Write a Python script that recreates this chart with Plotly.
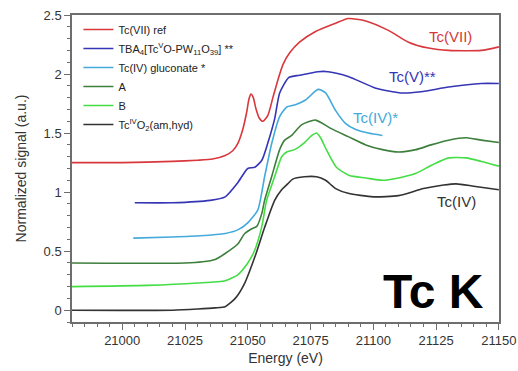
import plotly.graph_objects as go

# ---- data ----
names = [
    "Tc(VII) ref",
    "TBA<sub>4</sub>[Tc<sup>V</sup>O-PW<sub>11</sub>O<sub>39</sub>] **",
    "Tc(IV) gluconate *",
    "A",
    "B",
    "Tc<sup>IV</sup>O<sub>2</sub>(am,hyd)",
]

red_e = [20980, 21000, 21020, 21030, 21036, 21041, 21044, 21046, 21048, 21049.5, 21050.5,
         21051.3, 21052.2, 21053.2, 21054.5, 21056, 21058, 21060, 21062, 21064, 21066.7,
         21070.6, 21077, 21085, 21090, 21097, 21106, 21114, 21122, 21130, 21143, 21150]
red_v = [1.25, 1.25, 1.26, 1.27, 1.28, 1.31, 1.35, 1.41, 1.53, 1.67, 1.79,
         1.83, 1.80, 1.71, 1.63, 1.60, 1.65, 1.80, 1.95, 2.08, 2.18,
         2.27, 2.36, 2.43, 2.47, 2.45, 2.37, 2.27, 2.22, 2.20, 2.20, 2.23]

blue_e = [21005, 21020, 21035, 21041, 21046, 21050, 21052.8, 21055.6, 21057.9, 21060.7,
          21062.7, 21066.3, 21070.6, 21078, 21082, 21090, 21101, 21111, 21119, 21130,
          21143, 21150]
blue_v = [0.91, 0.91, 0.93, 0.96, 1.08, 1.20, 1.21, 1.27, 1.41, 1.62,
          1.84, 1.97, 1.99, 2.02, 2.02, 1.98, 1.88, 1.84, 1.85, 1.89,
          1.92, 1.92]

cyan_e = [21004.4, 21020, 21031, 21041, 21046, 21050, 21054, 21056.7, 21059.5, 21062.7,
          21065.5, 21069, 21073, 21078, 21081, 21085, 21089, 21093, 21098, 21103.6]
cyan_v = [0.61, 0.62, 0.63, 0.65, 0.68, 0.74, 0.85, 1.13, 1.41, 1.64,
          1.72, 1.74, 1.78, 1.87, 1.84, 1.69, 1.58, 1.53, 1.50, 1.48]

a_e = [20980, 21025, 21032, 21037, 21041, 21046, 21048.8, 21051.6, 21053.6, 21055.6,
       21056.7, 21059.5, 21062.7, 21064.7, 21067.5, 21071.4, 21077, 21083, 21090, 21097,
       21103.6, 21110, 21117, 21123, 21130, 21137, 21143, 21150]
a_v = [0.40, 0.40, 0.41, 0.43, 0.48, 0.56, 0.65, 0.69, 0.71, 0.82,
       0.93, 1.13, 1.36, 1.44, 1.48, 1.57, 1.61, 1.54, 1.47, 1.40,
       1.36, 1.34, 1.36, 1.40, 1.44, 1.46, 1.44, 1.42]

b_e = [20980, 21010, 21030, 21041, 21046, 21050, 21052.8, 21055.6, 21057.5, 21060.7,
       21063.5, 21065.5, 21068.6, 21072.6, 21075.5, 21077.4, 21079, 21081.3, 21085.3,
       21090.5, 21097, 21103.6, 21110, 21117, 21123.4, 21130, 21137, 21143, 21150]
b_v = [0.20, 0.21, 0.23, 0.25, 0.30, 0.40, 0.51, 0.71, 0.93, 1.13,
       1.30, 1.34, 1.36, 1.42, 1.48, 1.50, 1.46, 1.36, 1.21,
       1.14, 1.12, 1.10, 1.12, 1.16, 1.23, 1.29, 1.29, 1.26, 1.22]

k_e = [20980, 21020, 21030, 21037, 21041, 21045, 21048.8, 21052.8, 21056.7, 21060.7,
       21063.5, 21065.9, 21067.9, 21072.6, 21077.4, 21081, 21085, 21090, 21100, 21110,
       21120, 21128, 21133, 21140, 21150]
k_v = [0.00, 0.00, 0.01, 0.02, 0.03, 0.10, 0.23, 0.45, 0.70, 0.93,
       1.02, 1.07, 1.11, 1.13, 1.13, 1.10, 1.03, 0.99, 0.96, 0.97,
       1.03, 1.06, 1.07, 1.05, 1.02]

colors = ["#d8383c", "#3535b5", "#44aadb", "#3d7f3d", "#44dd44", "#333333"]

x_ticks = [21000, 21025, 21050, 21075, 21100, 21125, 21150]
x_ticklabels = ["21000", "21025", "21050", "21075", "21100", "21125", "21150"]
y_ticks = [0, 0.5, 1, 1.5, 2, 2.5]
y_ticklabels = ["0", "0.5", "1", "1.5", "2", "2.5"]

labels = ["Tc(VII)", "Tc(V)**", "Tc(IV)*", "Tc(IV)"]
label_x = [21130.6, 21115.5, 21100.8, 21133]
label_y = [2.32, 1.98, 1.63, 0.92]
label_colors = [colors[0], colors[1], colors[2], colors[5]]

series = [(red_e, red_v), (blue_e, blue_v), (cyan_e, cyan_v), (a_e, a_v), (b_e, b_v), (k_e, k_v)]

fig = go.Figure()
for (ex, ey), nm, c in zip(series, names, colors):
    fig.add_trace(go.Scatter(x=ex, y=ey, mode="lines", name=nm,
                             line=dict(color=c, width=1.6, shape="spline", smoothing=0.6)))

for t, lx, ly, c in zip(labels, label_x, label_y, label_colors):
    fig.add_annotation(x=lx, y=ly, text=t, showarrow=False,
                       font=dict(size=15, color=c))

fig.add_annotation(x=21124, y=0.16, text="<b>Tc K</b>", showarrow=False,
                   font=dict(size=48, color="black"))

axis_common = dict(showline=True, linecolor="#6e6e6e", linewidth=1.5, mirror=True,
                   ticks="outside", ticklen=6, tickwidth=1.2, tickcolor="#6e6e6e",
                   showgrid=False, zeroline=False, automargin=False,
                   ticklabeloverflow="allow",
                   tickfont=dict(size=13, color="#333333"))

fig.update_xaxes(range=[20980, 21150.05], tickvals=x_ticks, ticktext=x_ticklabels,
                 title=dict(text="Energy (eV)", font=dict(size=14, color="#333333"), standoff=6),
                 minor=dict(dtick=5, ticks="outside", ticklen=3, tickcolor="#6e6e6e"),
                 **axis_common)
fig.update_yaxes(range=[-0.1, 2.5], tickvals=y_ticks, ticktext=y_ticklabels,
                 title=dict(text="Normalized signal (a.u.)", font=dict(size=14, color="#333333"), standoff=14),
                 minor=dict(dtick=0.1, ticks="outside", ticklen=3, tickcolor="#6e6e6e"),
                 **axis_common)

fig.update_layout(
    width=518, height=371,
    margin=dict(l=72, r=19, t=15, b=49),
    paper_bgcolor="white", plot_bgcolor="white",
    font=dict(family="Arial, Liberation Sans, sans-serif"),
    legend=dict(x=0.015, y=1.0, xanchor="left", yanchor="top",
                bgcolor="rgba(0,0,0,0)", font=dict(size=11, color="#222222"),
                tracegroupgap=0, itemwidth=30),
    showlegend=True,
)

# remove the default 8px page margin so the 518x371 figure fills the window exactly
fig.write_html("out.html",
               config={"displayModeBar": False},
               post_script="document.body.style.margin='0px';document.body.style.overflow='hidden';")
